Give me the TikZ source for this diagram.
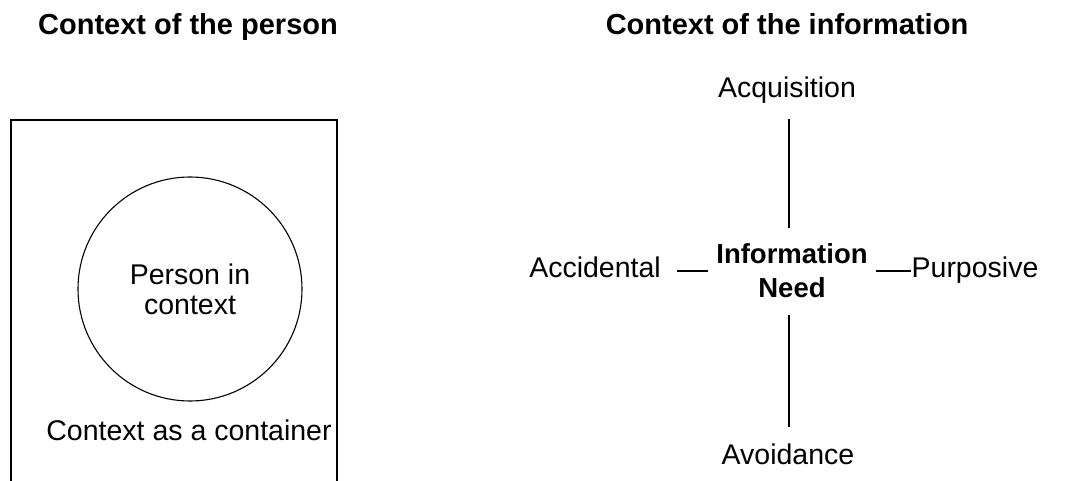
\documentclass[tikz,border=0pt]{standalone}
\usepackage{fontspec}
\setmainfont{Liberation Sans}
\usepackage{tikz}

\begin{document}
\begin{tikzpicture}[x=1pt,y=-1pt,
            lbl/.style={inner sep=0pt,font=\fontsize{28.5}{30}\selectfont,align=center},
            ttl/.style={inner sep=0pt,font=\fontsize{29}{33}\selectfont\bfseries,anchor=base},
            wire/.style={line width=1.3pt}]
            \useasboundingbox (0,0) rectangle (1073,481);
            \node [ttl] (ttlperson) at (188,35) {Context of the person};
            \node [ttl] (ttlinfo) at (787,35) {Context of the information};
            \draw [wire] (11,481) -- (11,120) -- (337,120) -- (337,481);
            \node [lbl,draw,circle,line width=1.1pt,minimum size=224pt] (person) at (190,289) {Person in\\context};
            \node [lbl,anchor=base] (container) at (189,440) {Context as a container};
            \node [lbl,font=\fontsize{27.5}{34}\selectfont\bfseries] (need) at (792,271) {Information\\Need};
            \node [lbl,anchor=base] (acq) at (787,98) {Acquisition};
            \node [lbl,anchor=base] (avoid) at (788,464) {Avoidance};
            \node [lbl,anchor=base] (accid) at (595,277) {Accidental};
            \node [lbl,anchor=base] (purp) at (975,277) {Purposive};
            \coordinate (axis) at (789,0);
            \draw [wire,shorten <=15pt,shorten >=16pt] (acq.south -| axis) -- (need.north -| axis);
            \draw [wire,shorten <=17pt,shorten >=16pt] (need.south -| axis) -- (avoid.north -| axis);
            \draw [wire,shorten <=16pt,shorten >=8pt] (accid.east |- need.center) -- (need.west);
            \draw [wire,shorten <=8.5pt] (need.east) -- (need.east -| purp.west);
\end{tikzpicture}
\end{document}
